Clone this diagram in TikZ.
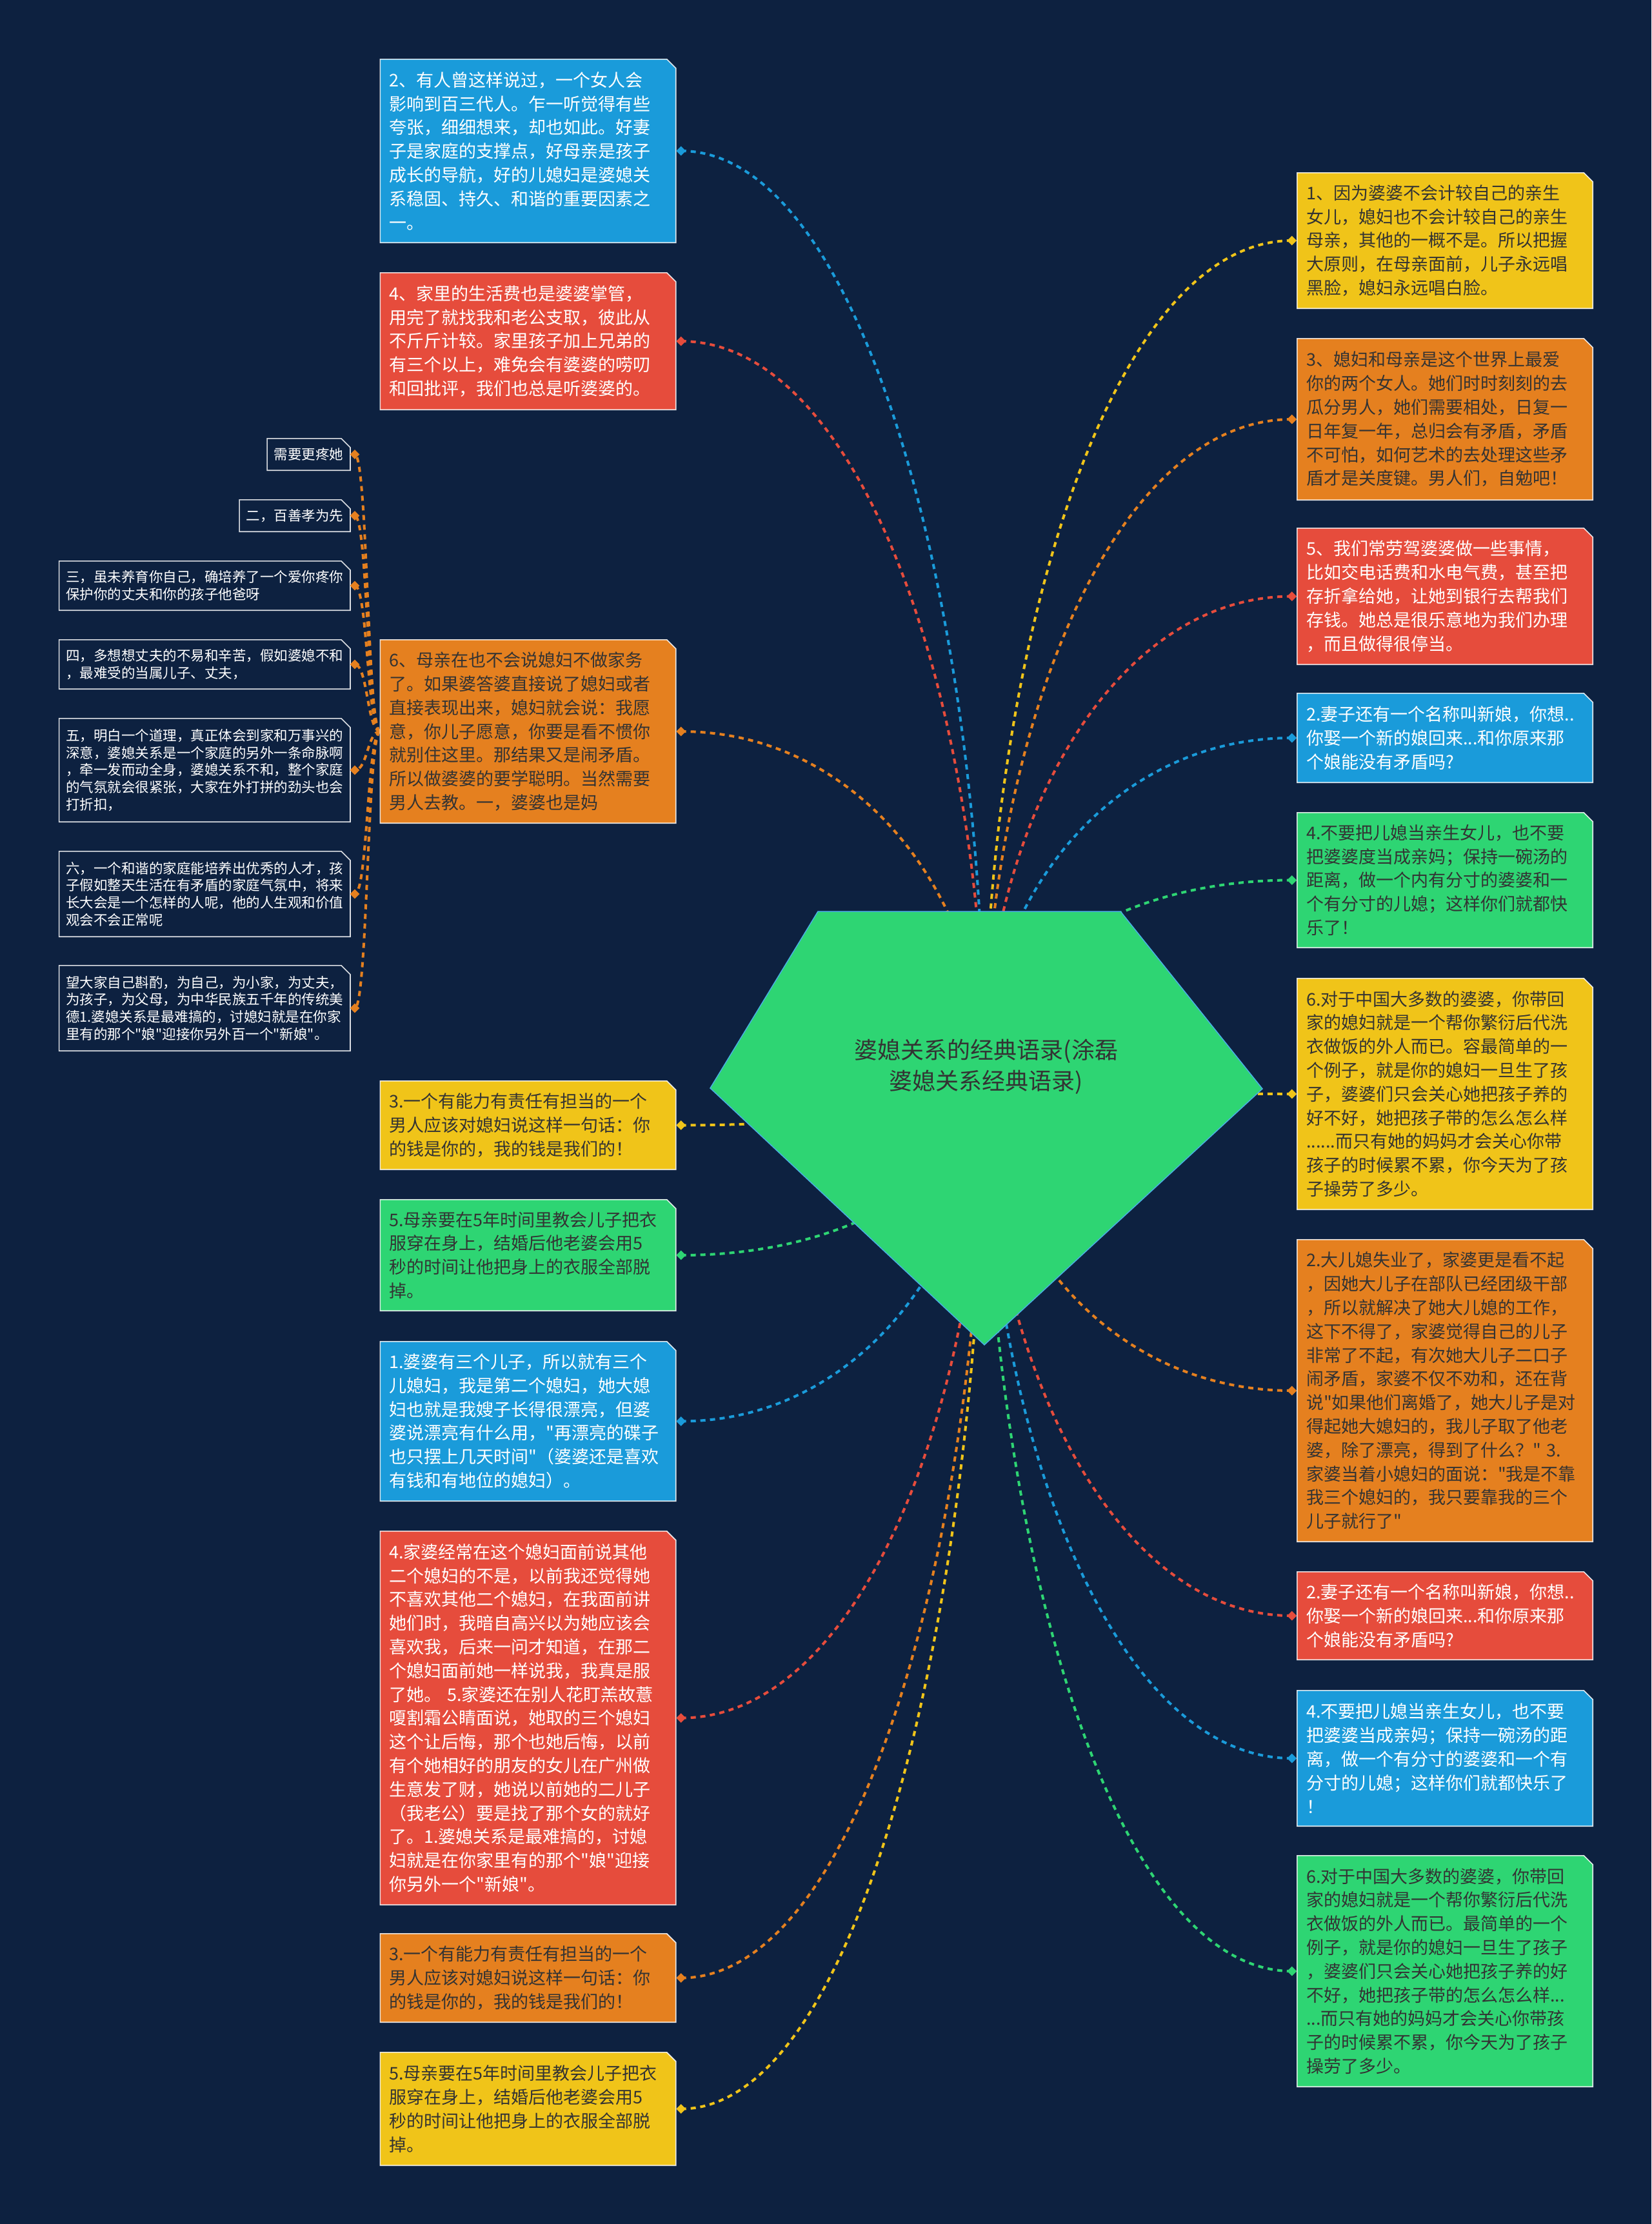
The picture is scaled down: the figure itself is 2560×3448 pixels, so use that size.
\documentclass[tikz,border=0pt]{standalone}
\usepackage{fontspec}
\setmainfont{Noto Sans CJK SC}[Ligatures=TeXOff]
\usetikzlibrary{calc,shapes.geometric}
\pgfdeclarelayer{back}
\pgfdeclarelayer{lines}
\pgfdeclarelayer{boxes}
\pgfsetlayers{back,lines,boxes,main}
\definecolor{bgc}{HTML}{0D2140}
\definecolor{cblue}{HTML}{1A9BDA}
\definecolor{cred}{HTML}{E64C3C}
\definecolor{corange}{HTML}{E5801F}
\definecolor{cyellow}{HTML}{F0C419}
\definecolor{cgreen}{HTML}{2ED573}
\definecolor{dtext}{HTML}{333333}
\tikzset{
 mainbox/.style={rectangle, inner xsep=14pt, inner ysep=2pt, text width=430pt, align=left, font=\fontsize{27}{36.8}\selectfont},
 smallbox/.style={rectangle, inner xsep=10.5pt, inner ysep=2pt, align=left, text=white, anchor=east, font=\fontsize{21.5}{26.7}\selectfont},
 dmd/.style={diamond, inner sep=0pt, minimum size=15pt},
 conn/.style={line width=4pt, dash pattern=on 8pt off 7pt},
 boxedge/.style={draw=white, draw opacity=0.85, line width=1.6pt},
}
\newcommand\mybox[2]{%
 \begin{pgfonlayer}{boxes}
 \path[boxedge, fill=#2] (#1.south west) -- (#1.north west) -- ($(#1.north east)+(-14,0)$) -- ($(#1.north east)+(0,14)$) -- (#1.south east) -- cycle;
 \end{pgfonlayer}}
\newcommand\mycurve[3]{%
 \begin{pgfonlayer}{lines}
 \path (#1.center) coordinate (cA) (#2) coordinate (cB);
 \draw[conn, #3] let \p1=(cA), \p2=(cB) in (\p1) .. controls ({\x1+0.6*(\x2-\x1)},\y1) and (\x2,{\y1+0.5*(\y2-\y1)}) .. (\p2);
 \end{pgfonlayer}}
\newcommand\subcurve[1]{%
 \begin{pgfonlayer}{lines}
 \draw[conn, corange] (L3.west) .. controls +(-20,0) and +(20,0) .. (#1.center);
 \end{pgfonlayer}}
\begin{document}
\begin{tikzpicture}[x=1pt,y=-1pt]
\begin{pgfonlayer}{back}
\fill[bgc] (0,0) rectangle (2560,3448);
\end{pgfonlayer}
\useasboundingbox (0,0) rectangle (2560,3448);

% root
\coordinate (rc) at (1526,1665);
\begin{pgfonlayer}{boxes}
\path[fill=cgreen, draw=cblue!80, line width=1.5pt] (1268,1413) -- (1737,1413) -- (1957,1688) -- (1526,2085) -- (1101,1687) -- cycle;
\end{pgfonlayer}
\node[font=\fontsize{36}{48}\selectfont, text=dtext, align=center] (root) at (1529,1654) {婆媳关系的经典语录(涂磊\\婆媳关系经典语录)};

% left column
\node[mainbox, text=white, minimum height=284pt] (L1) at (818.5,234) {2、有人曾这样说过，一个女人会\\影响到百三代人。乍一听觉得有些\\夸张，细细想来，却也如此。好妻\\子是家庭的支撑点，好母亲是孩子\\成长的导航，好的儿媳妇是婆媳关\\系稳固、持久、和谐的重要因素之\\一。};
\node[mainbox, text=white, minimum height=212pt] (L2) at (818.5,529) {4、家里的生活费也是婆婆掌管，\\用完了就找我和老公支取，彼此从\\不斤斤计较。家里孩子加上兄弟的\\有三个以上，难免会有婆婆的唠叨\\和回批评，我们也总是听婆婆的。};
\node[mainbox, text=dtext, minimum height=284pt] (L3) at (818.5,1134) {6、母亲在也不会说媳妇不做家务\\了。如果婆答婆直接说了媳妇或者\\直接表现出来，媳妇就会说：我愿\\意，你儿子愿意，你要是看不惯你\\就别住这里。那结果又是闹矛盾。\\所以做婆婆的要学聪明。当然需要\\男人去教。一，婆婆也是妈};
\node[mainbox, text=dtext, minimum height=137pt] (L4) at (818.5,1744.5) {3.一个有能力有责任有担当的一个\\男人应该对媳妇说这样一句话：你\\的钱是你的，我的钱是我们的！};
\node[mainbox, text=dtext, minimum height=172pt] (L5) at (818.5,1946) {5.母亲要在5年时间里教会儿子把衣\\服穿在身上，结婚后他老婆会用5\\秒的时间让他把身上的衣服全部脱\\掉。};
\node[mainbox, text=white, minimum height=247pt] (L6) at (818.5,2203.5) {1.婆婆有三个儿子，所以就有三个\\儿媳妇，我是第二个媳妇，她大媳\\妇也就是我嫂子长得很漂亮，但婆\\婆说漂亮有什么用，"再漂亮的碟子\\也只摆上几天时间"（婆婆还是喜欢\\有钱和有地位的媳妇）。};
\node[mainbox, text=white, minimum height=579pt] (L7) at (818.5,2663.5) {4.家婆经常在这个媳妇面前说其他\\二个媳妇的不是，以前我还觉得她\\不喜欢其他二个媳妇，在我面前讲\\她们时，我暗自高兴以为她应该会\\喜欢我，后来一问才知道，在那二\\个媳妇面前她一样说我，我真是服\\了她。 5.家婆还在别人花盯羔故薏\\嗄割霜公睛面说，她取的三个媳妇\\这个让后悔，那个也她后悔，以前\\有个她相好的朋友的女儿在广州做\\生意发了财，她说以前她的二儿子\\（我老公）要是找了那个女的就好\\了。1.婆媳关系是最难搞的，讨媳\\妇就是在你家里有的那个"娘"迎接\\你另外一个"新娘"。};
\node[mainbox, text=dtext, minimum height=137pt] (L8) at (818.5,3066.5) {3.一个有能力有责任有担当的一个\\男人应该对媳妇说这样一句话：你\\的钱是你的，我的钱是我们的！};
\node[mainbox, text=dtext, minimum height=175pt] (L9) at (818.5,3269.5) {5.母亲要在5年时间里教会儿子把衣\\服穿在身上，结婚后他老婆会用5\\秒的时间让他把身上的衣服全部脱\\掉。};

% right column
\node[mainbox, text=dtext, minimum height=210pt] (R1) at (2240,373) {1、因为婆婆不会计较自己的亲生\\女儿，媳妇也不会计较自己的亲生\\母亲，其他的一概不是。所以把握\\大原则，在母亲面前，儿子永远唱\\黑脸，媳妇永远唱白脸。};
\node[mainbox, text=dtext, minimum height=250pt] (R2) at (2240,650) {3、媳妇和母亲是这个世界上最爱\\你的两个女人。她们时时刻刻的去\\瓜分男人，她们需要相处，日复一\\日年复一年，总归会有矛盾，矛盾\\不可怕，如何艺术的去处理这些矛\\盾才是关度键。男人们，自勉吧！};
\node[mainbox, text=white, minimum height=211pt] (R3) at (2240,924.5) {5、我们常劳驾婆婆做一些事情，\\比如交电话费和水电气费，甚至把\\存折拿给她，让她到银行去帮我们\\存钱。她总是很乐意地为我们办理\\，而且做得很停当。};
\node[mainbox, text=white, minimum height=138pt] (R4) at (2240,1144) {2.妻子还有一个名称叫新娘，你想..\\你娶一个新的娘回来...和你原来那\\个娘能没有矛盾吗?};
\node[mainbox, text=dtext, minimum height=209pt] (R5) at (2240,1364.5) {4.不要把儿媳当亲生女儿，也不要\\把婆婆度当成亲妈；保持一碗汤的\\距离，做一个内有分寸的婆婆和一\\个有分寸的儿媳；这样你们就都快\\乐了！};
\node[mainbox, text=dtext, minimum height=358pt] (R6) at (2240,1696) {6.对于中国大多数的婆婆，你带回\\家的媳妇就是一个帮你繁衍后代洗\\衣做饭的外人而已。容最简单的一\\个例子，就是你的媳妇一旦生了孩\\子，婆婆们只会关心她把孩子养的\\好不好，她把孩子带的怎么怎么样\\......而只有她的妈妈才会关心你带\\孩子的时候累不累，你今天为了孩\\子操劳了多少。};
\node[mainbox, text=dtext, minimum height=468pt] (R7) at (2240,2156) {2.大儿媳失业了，家婆更是看不起\\，因她大儿子在部队已经团级干部\\，所以就解决了她大儿媳的工作，\\这下不得了，家婆觉得自己的儿子\\非常了不起，有次她大儿子二口子\\闹矛盾，家婆不仅不劝和，还在背\\说"如果他们离婚了，她大儿子是对\\得起她大媳妇的，我儿子取了他老\\婆，除了漂亮，得到了什么？" 3.\\家婆当着小媳妇的面说："我是不靠\\我三个媳妇的，我只要靠我的三个\\儿子就行了"};
\node[mainbox, text=white, minimum height=136pt] (R8) at (2240,2505) {2.妻子还有一个名称叫新娘，你想..\\你娶一个新的娘回来...和你原来那\\个娘能没有矛盾吗?};
\node[mainbox, text=white, minimum height=210pt] (R9) at (2240,2726) {4.不要把儿媳当亲生女儿，也不要\\把婆婆当成亲妈；保持一碗汤的距\\离，做一个有分寸的婆婆和一个有\\分寸的儿媳；这样你们就都快乐了\\！};
\node[mainbox, text=dtext, minimum height=358pt] (R10) at (2240,3056) {6.对于中国大多数的婆婆，你带回\\家的媳妇就是一个帮你繁衍后代洗\\衣做饭的外人而已。最简单的一个\\例子，就是你的媳妇一旦生了孩子\\，婆婆们只会关心她把孩子养的好\\不好，她把孩子带的怎么怎么样...\\...而只有她的妈妈才会关心你带孩\\子的时候累不累，你今天为了孩子\\操劳了多少。};

% small boxes (children of L3)
\node[smallbox, minimum height=49pt] (S1) at (543,704.5) {需要更疼她};
\node[smallbox, minimum height=49pt] (S2) at (543,799.5) {二，百善孝为先};
\node[smallbox, text width=430pt, minimum height=76pt] (S3) at (543,908) {三，虽未养育你自己，确培养了一个爱你疼你\\保护你的丈夫和你的孩子他爸呀};
\node[smallbox, text width=430pt, minimum height=76pt] (S4) at (543,1030) {四，多想想丈夫的不易和辛苦，假如婆媳不和\\，最难受的当属儿子、丈夫，};
\node[smallbox, text width=430pt, minimum height=160pt] (S5) at (543,1194) {五，明白一个道理，真正体会到家和万事兴的\\深意，婆媳关系是一个家庭的另外一条命脉啊\\，牵一发而动全身，婆媳关系不和，整个家庭\\的气氛就会很紧张，大家在外打拼的劲头也会\\打折扣，};
\node[smallbox, text width=430pt, minimum height=132pt] (S6) at (543,1386) {六，一个和谐的家庭能培养出优秀的人才，孩\\子假如整天生活在有矛盾的家庭气氛中，将来\\长大会是一个怎样的人呢，他的人生观和价值\\观会不会正常呢};
\node[smallbox, text width=430pt, minimum height=132pt] (S7) at (543,1563) {望大家自己斟酌，为自己，为小家，为丈夫，\\为孩子，为父母，为中华民族五千年的传统美\\德1.婆媳关系是最难搞的，讨媳妇就是在你家\\里有的那个"娘"迎接你另外百一个"新娘"。};

% box shapes
\mybox{L1}{cblue}\mybox{L2}{cred}\mybox{L3}{corange}\mybox{L4}{cyellow}\mybox{L5}{cgreen}
\mybox{L6}{cblue}\mybox{L7}{cred}\mybox{L8}{corange}\mybox{L9}{cyellow}
\mybox{R1}{cyellow}\mybox{R2}{corange}\mybox{R3}{cred}\mybox{R4}{cblue}\mybox{R5}{cgreen}
\mybox{R6}{cyellow}\mybox{R7}{corange}\mybox{R8}{cred}\mybox{R9}{cblue}\mybox{R10}{cgreen}
\foreach \s in {S1,S2,S3,S4,S5,S6,S7} {\mybox{\s}{bgc}}

% diamonds
\foreach \q/\c in {L1/cblue,L2/cred,L3/corange,L4/cyellow,L5/cgreen,L6/cblue,L7/cred,L8/corange,L9/cyellow} {
 \node[dmd, fill=\c] (d\q) at ($(\q.east)+(8,0)$) {};
}
\foreach \q/\c in {R1/cyellow,R2/corange,R3/cred,R4/cblue,R5/cgreen,R6/cyellow,R7/corange,R8/cred,R9/cblue,R10/cgreen} {
 \node[dmd, fill=\c] (d\q) at ($(\q.west)+(-8,0)$) {};
}
\foreach \s in {S1,S2,S3,S4,S5,S6,S7} {
 \node[dmd, fill=corange] (d\s) at ($(\s.east)+(7,0)$) {};
}

% connectors
\foreach \q/\c in {L1/cblue,L2/cred,L3/corange,L4/cyellow,L5/cgreen,L6/cblue,L7/cred,L8/corange,L9/cyellow,R1/cyellow,R2/corange,R3/cred,R4/cblue,R5/cgreen,R6/cyellow,R7/corange,R8/cred,R9/cblue,R10/cgreen} {
 \mycurve{d\q}{rc}{\c}
}
\foreach \s in {S1,S2,S3,S4,S5,S6,S7} {\subcurve{d\s}}
\end{tikzpicture}
\end{document}
